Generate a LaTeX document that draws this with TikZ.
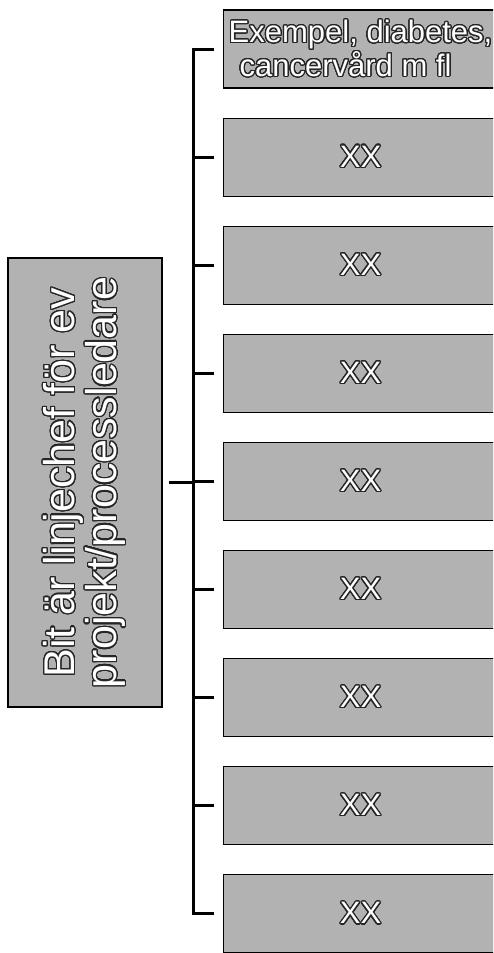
\documentclass[tikz,border=0pt]{standalone}
\usepackage{fontspec}
\setmainfont{Liberation Sans}
\usepackage{contour}
\contourlength{1.2pt}
\contournumber{32}
\newcommand{\outl}[1]{\contour{black!85}{\textcolor{white}{#1}}}
\tikzset{
  box/.style={draw=black, line width=1.1pt, fill=black!30, minimum width=274pt,
    minimum height=78pt, inner sep=0pt, anchor=west, align=center,
    font=\fontsize{31}{29}\selectfont},
  lbox/.style={draw=black, line width=1.1pt, fill=black!30, rotate=90,
    minimum width=449pt, minimum height=154pt, inner sep=0pt, align=center,
    font=\fontsize{43}{42}\selectfont},
  conn/.style={draw=black, line width=3pt, line join=miter}
}
\begin{document}
\begin{tikzpicture}[x=1pt,y=-1pt]
\useasboundingbox (0,0) rectangle (493,953);
\clip (0,0) rectangle (493,953);
\node[lbox] (L) at (85,482.5) {\outl{Bit är linjechef för ev}\\\outl{projekt/processledare}};
\node[box] (B1) at (223,49) {\outl{Exempel, diabetes,}\\\outl{cancervård m fl}\hspace*{30pt}};
\foreach \i in {2,...,9}{
  \node[box] (B\i) at (223,{49+108.1*(\i-1)}) {\outl{XX}};
}
\coordinate (T) at ([xshift=-30pt]B1.west);
\draw[conn, shorten <=9pt, shorten >=9pt] (B1.west) -- (T) |- (B9.west);
\foreach \i in {2,...,8}{
  \draw[conn, shorten >=9pt] (B\i.west -| T) -- (B\i.west);
}
\draw[conn, shorten <=6pt] (L.south) -- (L.south -| T);
\end{tikzpicture}
\end{document}
